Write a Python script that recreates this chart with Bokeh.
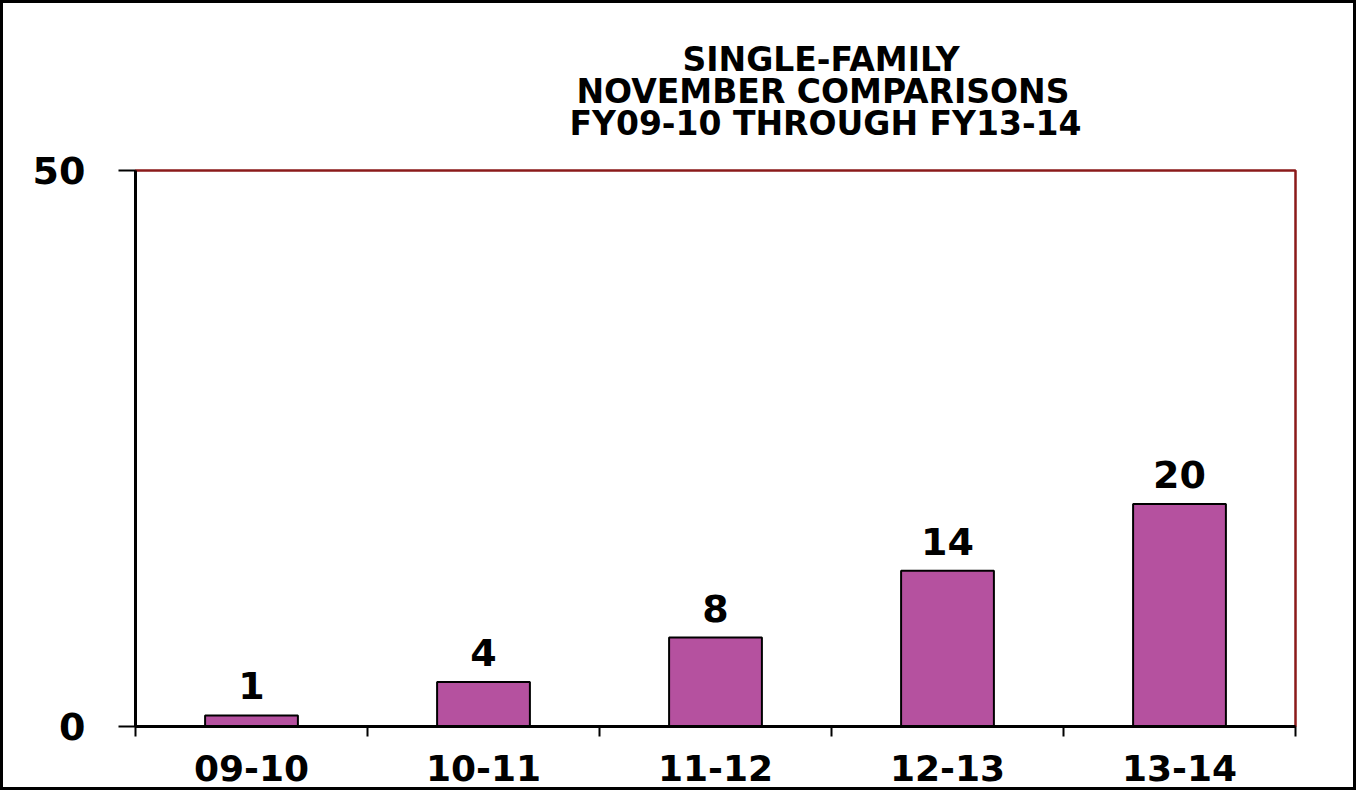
from bokeh.plotting import figure
from bokeh.models import Range1d, FixedTicker, Title
from bokeh.core.properties import value
from bokeh.embed import file_html
from bokeh.resources import INLINE

title_lines = ["SINGLE-FAMILY", "NOVEMBER  COMPARISONS", "FY09-10  THROUGH  FY13-14"]
categories = ["09-10", "10-11", "11-12", "12-13", "13-14"]
values = [1, 4, 8, 14, 20]
y_ticks = [0, 50]
y_max = 50

n = len(categories)
centers = [i + 0.5 for i in range(n)]
boundaries = list(range(n + 1))

FONT = "DejaVu Sans"
BAR = "#B5519F"
FRAME_RED = "#8B1A1A"

p = figure(width=1356, height=790, output_backend="svg", toolbar_location=None,
           x_range=Range1d(0, n), y_range=Range1d(0, y_max),
           min_border_left=135, min_border_right=61, min_border_top=170, min_border_bottom=64)
p.grid.visible = False
p.background_fill_color = "white"
p.border_fill_color = "white"
p.border_fill_alpha = 0
p.outline_line_color = FRAME_RED
p.outline_line_width = 2.5
p.styles = {"box-shadow": "inset 0 0 0 3px black", "background-color": "white"}

p.vbar(x=centers, top=values, bottom=0, width=0.4, fill_color=BAR, line_color="black", line_width=2)
p.text(x=centers, y=values, text=[str(v) for v in values], text_align="center", text_baseline="bottom",
       y_offset=-16, text_font=value(FONT), text_font_style="bold", text_font_size="38px", text_color="black")

xa = p.xaxis[0]
xa.ticker = FixedTicker(ticks=centers, minor_ticks=boundaries)
xa.major_label_overrides = {c: cat for c, cat in zip(centers, categories)}
xa.major_tick_out = 0
xa.major_tick_in = 0
xa.minor_tick_out = 10
xa.minor_tick_in = 0
xa.minor_tick_line_color = "black"
xa.minor_tick_line_width = 2
xa.axis_line_color = "black"
xa.axis_line_width = 3
xa.major_label_standoff = 18
xa.major_label_text_font = FONT
xa.major_label_text_font_style = "bold"
xa.major_label_text_font_size = "36px"
xa.major_label_text_color = "black"

ya = p.yaxis[0]
ya.ticker = FixedTicker(ticks=y_ticks, minor_ticks=[])
ya.major_tick_out = 17
ya.major_tick_in = 0
ya.major_tick_line_color = "black"
ya.major_tick_line_width = 2
ya.axis_line_color = "black"
ya.axis_line_width = 3
ya.major_label_standoff = 33
ya.major_label_text_font = FONT
ya.major_label_text_font_style = "bold"
ya.major_label_text_font_size = "38px"
ya.major_label_text_color = "black"

# spacer between frame and title block
p.add_layout(Title(text=" ", text_font=FONT, text_font_size="33px", standoff=-10,
                   vertical_align="middle"), "above")
title_offsets = [547, 441, 434]
for line, off in reversed(list(zip(title_lines, title_offsets))):
    p.add_layout(Title(text=line, align="left", offset=off, vertical_align="middle",
                       standoff=-9, text_font=FONT, text_font_style="bold",
                       text_font_size="33px", text_color="black"), "above")

open("out.html", "w").write(file_html(p, INLINE))
